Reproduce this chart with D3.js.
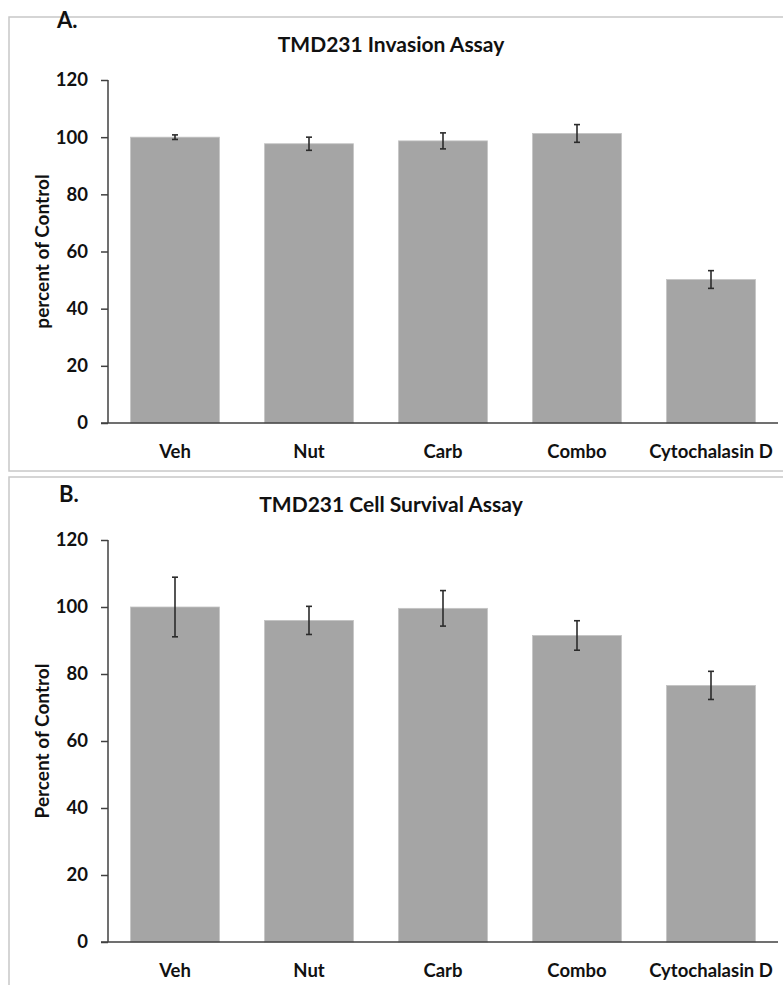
<!DOCTYPE html>
<html lang="en">
<head>
	<meta charset="UTF-8">
	<title>TMD231 assays</title>
	<script src="https://cdn.jsdelivr.net/npm/d3@7"></script>
	<style>
		html, body{
			margin: 0;
			padding: 0;
			background: #fff;
		}
		svg{
			display: block;
			font-family: Lato, "Open Sans", sans-serif;
			font-weight: bold;
		}
	</style>
</head>
<body>
	<div class="chart"></div>
	<script>
		// values
		var categories = ['Veh', 'Nut', 'Carb', 'Combo', 'Cytochalasin D'];
		var invasionValues = [100, 97.7, 98.7, 101.3, 50.2];
		var invasionErrors = [0.8, 2.3, 2.8, 3.1, 3.1];
		var survivalValues = [100, 96.0, 99.6, 91.5, 76.6];
		var survivalErrors = [8.9, 4.2, 5.3, 4.4, 4.2];
		var yTicks = [0, 20, 40, 60, 80, 100, 120];

		var width = 783;
		var height = 985;

		var svg = d3.select('.chart')
					.append('svg')
					.attr('width', width)
					.attr('height', height);

		function drawPanel(p){
			var g = svg.append('g');

			// panel frame
			g.append('rect')
				.attr('x', p.box[0])
				.attr('y', p.box[1])
				.attr('width', p.box[2])
				.attr('height', p.box[3])
				.attr('fill', 'none')
				.attr('stroke', '#c8c8c8')
				.attr('stroke-width', 1.5);

			g.append('text')
				.attr('x', p.letterPos[0])
				.attr('y', p.letterPos[1])
				.attr('font-size', 22)
				.attr('fill', '#111')
				.text(p.letter);

			g.append('text')
				.attr('x', p.titlePos[0])
				.attr('y', p.titlePos[1])
				.attr('text-anchor', 'middle')
				.attr('font-size', 21)
				.attr('fill', '#111')
				.text(p.title);

			var xScale = d3.scaleBand()
							.domain(categories)
							.range([p.left, p.right])
							.paddingInner(0.336)
							.paddingOuter(0.168);
			var yScale = d3.scaleLinear()
							.domain([0, 120])
							.range([p.bottom, p.top]);

			var data = categories.map(function(c, i){
				return { cat: c, value: p.values[i], err: p.errors[i] };
			});

			// bars
			g.append('g')
				.selectAll('rect')
				.data(data)
				.enter()
				.append('rect')
				.attr('x', function(d){ return xScale(d.cat); })
				.attr('y', function(d){ return yScale(d.value); })
				.attr('width', xScale.bandwidth())
				.attr('height', function(d){ return p.bottom - yScale(d.value); })
				.attr('fill', '#a5a5a5')
				.attr('stroke', '#c4c4c4')
				.attr('stroke-width', 0.8);

			// error bars
			var err = g.append('g')
						.selectAll('g')
						.data(data)
						.enter()
						.append('g')
						.attr('stroke', '#2b2b2b')
						.attr('stroke-width', 1.6);
			err.append('line')
				.attr('x1', function(d){ return xScale(d.cat) + xScale.bandwidth() / 2; })
				.attr('x2', function(d){ return xScale(d.cat) + xScale.bandwidth() / 2; })
				.attr('y1', function(d){ return yScale(d.value + d.err); })
				.attr('y2', function(d){ return yScale(d.value - d.err); });
			[1, -1].forEach(function(s){
				err.append('line')
					.attr('x1', function(d){ return xScale(d.cat) + xScale.bandwidth() / 2 - 3; })
					.attr('x2', function(d){ return xScale(d.cat) + xScale.bandwidth() / 2 + 3; })
					.attr('y1', function(d){ return yScale(d.value + s * d.err); })
					.attr('y2', function(d){ return yScale(d.value + s * d.err); });
			});

			var yAxis = d3.axisLeft()
							.scale(yScale)
							.tickValues(yTicks)
							.tickSize(7)
							.tickPadding(13)
							.tickFormat(d3.format('d'));
			var yG = g.append('g')
				.attr('transform', 'translate(' + p.left + ',0)')
				.call(yAxis);
			yG.select('.domain').attr('d', 'M0,' + p.top + 'V' + p.bottom);
			yG.attr('font-size', 18.5);

			var xAxis = d3.axisBottom()
							.scale(xScale)
							.tickSize(0)
							.tickPadding(22);
			var xG = g.append('g')
				.attr('transform', 'translate(0,' + p.bottom + ')')
				.call(xAxis);
			xG.select('.domain').attr('d', 'M' + (p.left - 7) + ',0H' + p.right);
			xG.attr('font-size', 18.5);

			[yG, xG].forEach(function(ax){
				ax.attr('font-family', null);
				ax.selectAll('.domain, line').attr('stroke', '#404040').attr('stroke-width', 1.5);
				ax.selectAll('text').attr('fill', '#111');
			});

			g.append('text')
				.attr('transform', 'translate(' + p.yTitleX + ',' + ((p.top + p.bottom) / 2) + ') rotate(-90)')
				.attr('text-anchor', 'middle')
				.attr('dy', '0.35em')
				.attr('font-size', 19)
				.attr('fill', '#111')
				.text(p.yTitle);
		}

		drawPanel({
			box: [9, 17, 800, 454],
			letter: 'A.', letterPos: [57, 28],
			title: 'TMD231 Invasion Assay', titlePos: [391, 52],
			left: 108, right: 778, top: 80, bottom: 423,
			values: invasionValues, errors: invasionErrors,
			yTitle: 'percent of Control', yTitleX: 42
		});

		drawPanel({
			box: [9, 477, 800, 540],
			letter: 'B.', letterPos: [59, 502],
			title: 'TMD231 Cell Survival Assay', titlePos: [391, 512],
			left: 108, right: 778, top: 540, bottom: 942,
			values: survivalValues, errors: survivalErrors,
			yTitle: 'Percent of Control', yTitleX: 42
		});
	</script>
</body>
</html>
